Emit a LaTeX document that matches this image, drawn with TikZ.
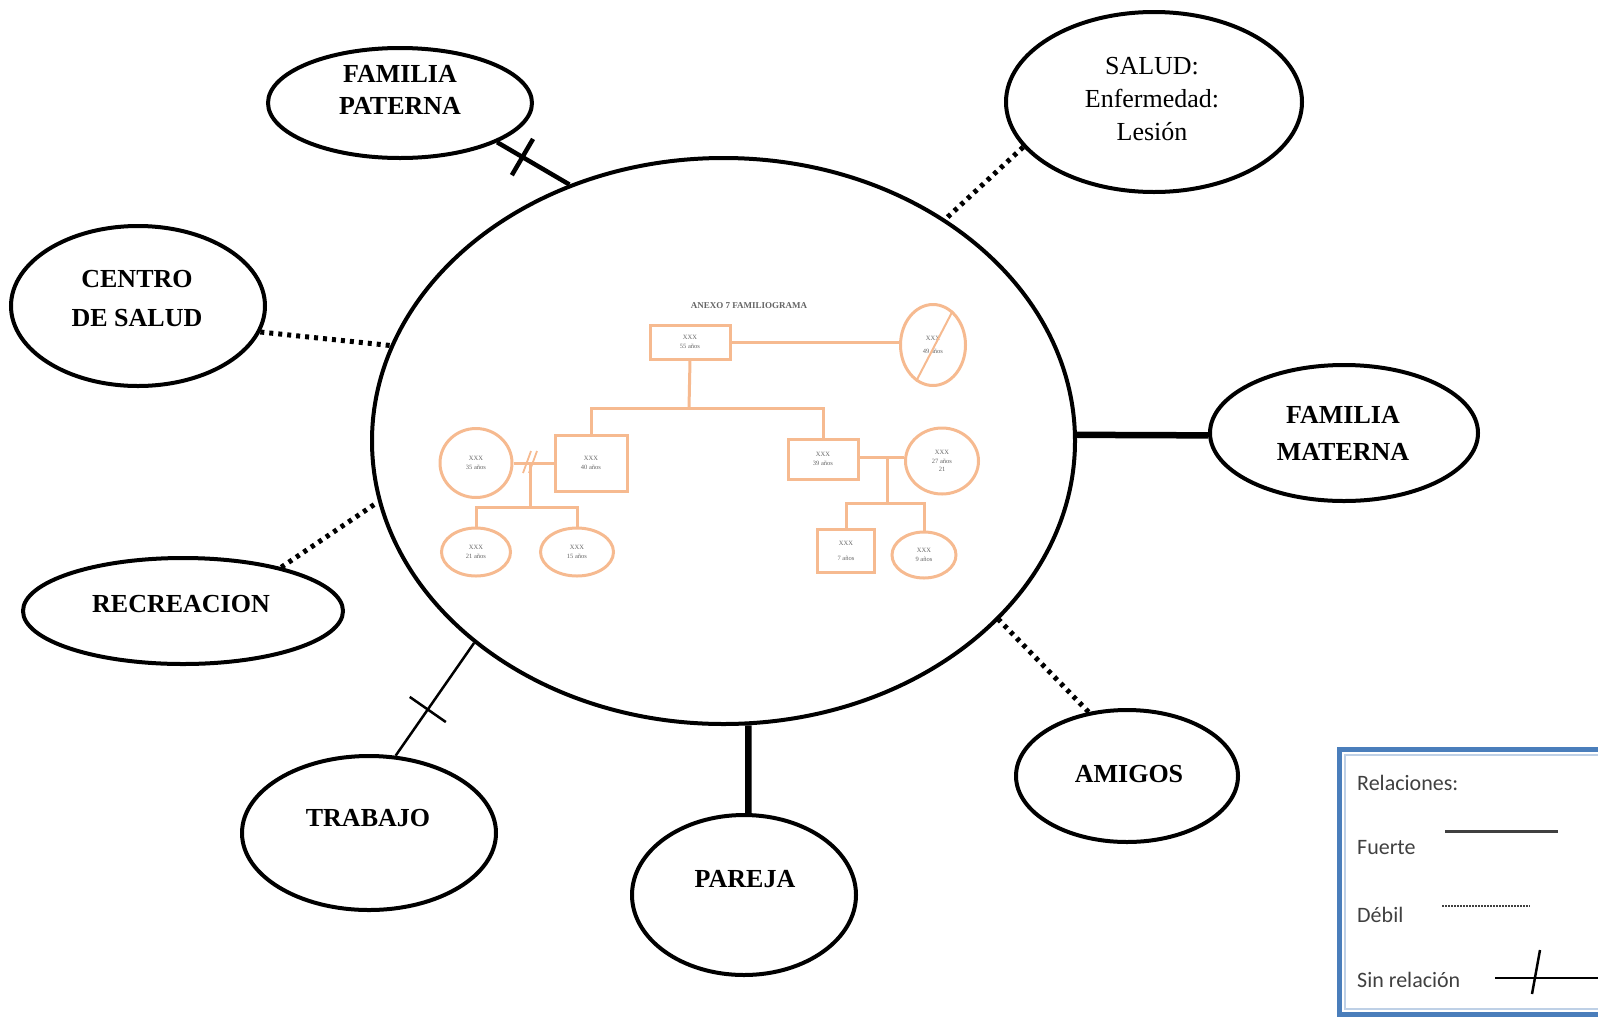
\documentclass[tikz,border=0pt]{standalone}
\usepackage{fontspec}
\setmainfont{Liberation Serif}
\newfontfamily\legfont{Carlito}
\usetikzlibrary{shapes.geometric,calc}
\definecolor{geno}{RGB}{246,186,144}
\definecolor{legblue}{RGB}{74,126,187}
\definecolor{leglight}{RGB}{190,208,230}
\definecolor{legtext}{RGB}{64,64,64}
\definecolor{genotext}{RGB}{100,100,100}
\begin{document}
\begin{tikzpicture}[x=1pt,y=-1pt,
  bub/.style={draw=black, line width=4pt, ellipse, inner sep=0pt},
  lbl/.style={font=\fontsize{26}{32}\selectfont\bfseries, align=center, inner sep=0pt},
  strongline/.style={line width=6.5pt},
  weakline/.style={line width=5pt, dash pattern=on 4pt off 5pt},
  noneline/.style={line width=4.5pt},
  thinnone/.style={line width=2.5pt},
  gbox/.style={draw=geno, line width=3pt, rectangle, inner sep=0pt, align=center,
    font=\fontsize{6.5}{8.5}\selectfont, text=genotext},
  gell/.style={gbox, ellipse},
  gline/.style={draw=geno, line width=3pt},
  legtxt/.style={font=\legfont\fontsize{22}{26}\selectfont, text=legtext, anchor=west, inner sep=0pt}
]
\useasboundingbox (0,0) rectangle (1598,1018);

% ---------- main ellipse ----------
\node[bub, minimum width=703pt, minimum height=566pt] (main) at (723.5,441) {};

% ---------- satellite ellipses ----------
\node[bub, minimum width=264pt, minimum height=110pt] (pat) at (400,103) {};
\node[bub, minimum width=296pt, minimum height=180pt] (sal) at (1154,102) {};
\node[bub, minimum width=254pt, minimum height=160pt] (cen) at (138,306) {};
\node[bub, minimum width=268pt, minimum height=136pt] (mat) at (1344,433) {};
\node[bub, minimum width=320pt, minimum height=106pt] (rec) at (183,611) {};
\node[bub, minimum width=254pt, minimum height=154pt] (tra) at (369,833) {};
\node[bub, minimum width=224pt, minimum height=160pt] (par) at (744,895) {};
\node[bub, minimum width=222pt, minimum height=132pt] (ami) at (1127,776) {};

% ---------- labels ----------
\node[lbl] (patT) at (400,90) {FAMILIA\\PATERNA};
\node[lbl, font=\fontsize{26}{33}\selectfont] (salT) at (1152,99) {SALUD:\\Enfermedad:\\Lesión};
\node[lbl, font=\fontsize{26}{39}\selectfont\bfseries] (cenT) at (137,299) {CENTRO\\DE SALUD};
\node[lbl, font=\fontsize{26}{37}\selectfont\bfseries] (matT) at (1343,433) {FAMILIA\\MATERNA};
\node[lbl] (recT) at (181,604) {RECREACION};
\node[lbl] (traT) at (368,818) {TRABAJO};
\node[lbl] (parT) at (745,879) {PAREJA};
\node[lbl] (amiT) at (1129,774) {AMIGOS};

% ---------- connectors ----------
\draw[noneline] (pat.-22) -- coordinate[pos=0.35] (tp) (main.121.6);
\draw[noneline] ($(tp)!21pt!90:(main.121.6)$) -- ($(tp)!21pt!-90:(main.121.6)$);
\draw[weakline] (sal.-161.6) -- (main.45.1);
\draw[weakline] (cen.-12.2) -- (main.164.1);
\draw[strongline] (mat.181) -- (main.1);
\draw[weakline] (rec.24.2) -- (main.190.5);
\draw[thinnone] (tra.71.8) -- coordinate[pos=0.41] (tt) (main.219.8);
\draw[thinnone] ($(tt)!22pt!90:(main.219.8)$) -- ($(tt)!22pt!-90:(main.219.8)$);
\draw[strongline] (par.87) -- (main.-85);
\draw[weakline] (ami.121.2) -- (main.-33.4);

% ---------- genogram ----------
\node[font=\fontsize{9}{10}\selectfont\bfseries, text=genotext, inner sep=0pt] (gtitle) at (749,306) {ANEXO 7 FAMILIOGRAMA};
\node[gbox, minimum width=80pt, minimum height=34pt] (g1) at (690,342) {XXX\\55 años};
\node[gell, minimum width=65pt, minimum height=81pt] (g2) at (933,345) {XXX\\[4pt]49 años};
\draw[gline, line width=2pt] (g2.60) -- (g2.-115);
\node[gbox, minimum width=72pt, minimum height=56pt] (g3) at (591,463) {XXX\\40 años};
\node[gell, minimum width=72pt, minimum height=69pt] (g4) at (476,463) {XXX\\35 años};
\node[gell, minimum width=69pt, minimum height=48pt] (g5) at (476,552) {XXX\\21 años};
\node[gell, minimum width=73pt, minimum height=48pt] (g6) at (577,552) {XXX\\15 años};
\node[gbox, minimum width=70pt, minimum height=40pt] (g7) at (823,459) {XXX\\39 años};
\node[gell, minimum width=73pt, minimum height=66pt] (g8) at (942,461) {XXX\\27 años\\21};
\node[gbox, minimum width=57pt, minimum height=43pt] (g9) at (846,551) {XXX\\[6pt]7 años};
\node[gell, minimum width=64pt, minimum height=46pt] (g10) at (924,555) {XXX\\9 años};

\coordinate (j1) at (689,408);
\coordinate (m1) at (530,462);
\coordinate (j2) at (530,507);
\coordinate (m2) at (887,457);
\coordinate (j3) at (887,503);

\draw[gline] (g1.east) -- (g1.east -| g2.west);
\draw[gline] (g1.south) -- (j1);
\draw[gline] (g3.north) |- (j1) -| (g7.north);
\draw[gline] (g4.east) -- (g4.east -| g3.west);
\draw[gline] (m1) -- (j2);
\draw[gline] (g5.north) |- (j2) -| (g6.north);
\draw[gline, line width=1.8pt] ($(m1)+(-7,11)$) -- ($(m1)+(1,-11)$);
\draw[gline, line width=1.8pt] ($(m1)+(-1,11)$) -- ($(m1)+(7,-11)$);
\draw[gline] (m2 -| g7.east) -- (m2 -| g8.west);
\draw[gline] (m2) -- (j3);
\draw[gline] (g9.north) |- (j3) -| (g10.north);

% ---------- legend ----------
\draw[leglight, line width=2pt] (1598,755) -- (1345,755) -- (1345,1009) -- (1598,1009);
\draw[legblue, line width=5pt] (1598,749) -- (1339,749) -- (1339,1014) -- (1598,1014);
\node[legtxt] (lrel) at (1357,783) {Relaciones:};
\node[legtxt] (lfue) at (1357,848) {Fuerte};
\node[legtxt] (ldeb) at (1357,915) {Débil};
\node[legtxt] (lsin) at (1357,980) {Sin relación};
\coordinate (fa) at (1445,831); \coordinate (fb) at (1558,831);
\coordinate (da) at (1442,906); \coordinate (db) at (1530,906);
\coordinate (sa) at (1495,978); \coordinate (sb) at (1598,978);
\coordinate (ta) at (1540,950); \coordinate (tb) at (1532,994);
\draw[legtext, line width=3pt] (fa) -- (fb);
\draw[legtext, line width=2pt, dash pattern=on 1.5pt off 1.5pt] (da) -- (db);
\draw[black, line width=2.5pt] (sa) -- (sb);
\draw[black, line width=2.5pt] (ta) -- (tb);
\end{tikzpicture}
\end{document}
